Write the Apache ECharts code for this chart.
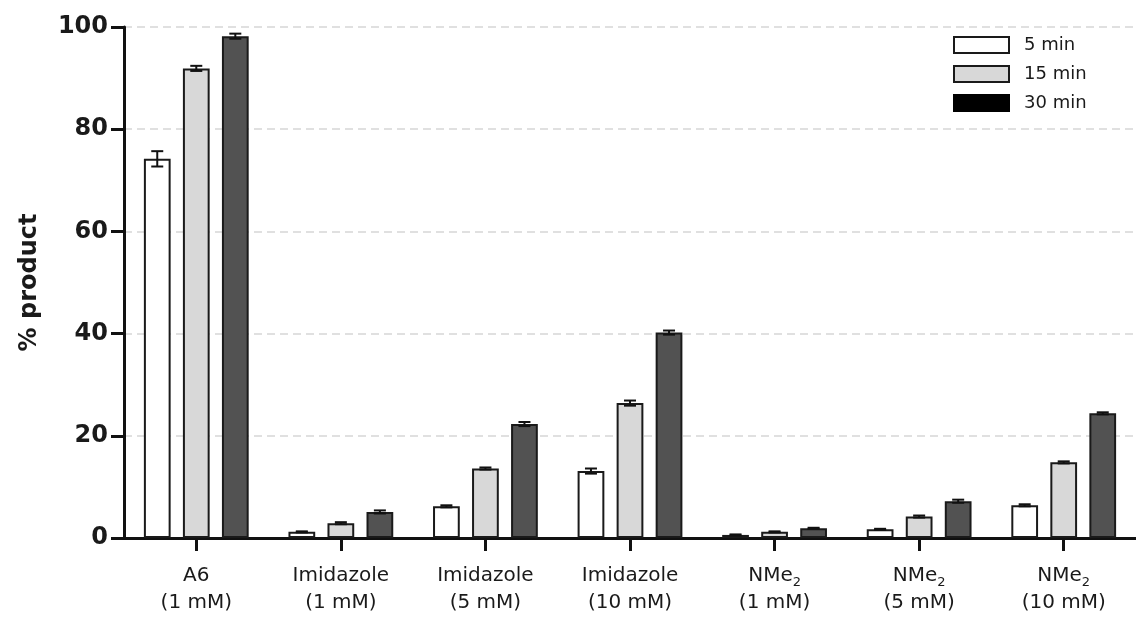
<!DOCTYPE html>
<html>
<head>
<meta charset="utf-8">
<script src="https://cdn.jsdelivr.net/npm/echarts@6/dist/echarts.min.js"></script>
<style>html,body{margin:0;padding:0;background:#fff;}#c{width:1136px;height:631px;}</style>
</head>
<body>
<div id="c"></div>
<script>
const categories = ['A6\n(1 mM)', 'Imidazole\n(1 mM)', 'Imidazole\n(5 mM)', 'Imidazole\n(10 mM)', 'NMe{sub|2}\n(1 mM)', 'NMe{sub|2}\n(5 mM)', 'NMe{sub|2}\n(10 mM)'];
const seriesNames = ['5 min', '15 min', '30 min'];
const min5 = [74.2, 1.2, 6.2, 13.1, 0.6, 1.7, 6.4];
const min15 = [91.9, 2.9, 13.6, 26.4, 1.2, 4.2, 14.8];
const min30 = [98.2, 5.1, 22.3, 40.2, 1.9, 7.2, 24.4];
const err5 = [1.5, 0.1, 0.2, 0.5, 0.1, 0.1, 0.2];
const err15 = [0.5, 0.2, 0.2, 0.5, 0.1, 0.2, 0.2];
const err30 = [0.5, 0.3, 0.4, 0.4, 0.1, 0.3, 0.2];
const yTicks = [0, 20, 40, 60, 80, 100];

const values = [min5, min15, min30];
const errs = [err5, err15, err30];
const fills = ['#ffffff', '#d8d8d8', '#525252'];
const BAR_FRAC = 0.185;
const GAP_FRAC = 0.085;

const chart = echarts.init(document.getElementById('c'), null, {renderer: 'canvas'});

const barSeries = values.map((v, i) => ({
  name: seriesNames[i],
  type: 'bar',
  data: v,
  barWidth: (BAR_FRAC * 100) + '%',
  barGap: (GAP_FRAC / BAR_FRAC * 100).toFixed(1) + '%',
  itemStyle: {color: fills[i], borderColor: '#1a1a1a', borderWidth: 2},
  emphasis: {disabled: true},
  z: 2
}));

const errSeries = values.map((v, i) => ({
  type: 'custom',
  name: 'err' + i,
  data: v.map((val, k) => [k, val, errs[i][k]]),
  z: 5,
  silent: true,
  renderItem: function (params, api) {
    const cat = api.value(0), val = api.value(1), e = api.value(2);
    const band = api.size([1, 0])[0];
    const off = (i - 1) * band * (BAR_FRAC + GAP_FRAC);
    const cx = api.coord([cat, val])[0] + off;
    const yt = api.coord([cat, val + e])[1];
    const yb = api.coord([cat, val - e])[1];
    const hw = 6;
    const st = {stroke: '#111', lineWidth: 2, fill: null};
    return {
      type: 'group',
      children: [
        {type: 'line', shape: {x1: cx, y1: yt, x2: cx, y2: yb}, style: st},
        {type: 'line', shape: {x1: cx - hw, y1: yt, x2: cx + hw, y2: yt}, style: st},
        {type: 'line', shape: {x1: cx - hw, y1: yb, x2: cx + hw, y2: yb}, style: st}
      ]
    };
  }
}));

const option = {
  animation: false,
  backgroundColor: '#ffffff',
  grid: {left: 124, right: -2, top: 27, bottom: 93, containLabel: false},
  legend: {
    orient: 'vertical',
    left: 953,
    top: 36,
    padding: 0,
    itemWidth: 55,
    itemHeight: 16,
    itemGap: 11,
    icon: 'rect',
    selectedMode: false,
    data: [
      {name: '5 min'},
      {name: '15 min'},
      {name: '30 min', itemStyle: {color: '#000000', borderColor: '#000000'}}
    ],
    formatter: function (n) { return '{t|' + n + '}'; },
    textStyle: {
      fontFamily: 'DejaVu Sans', fontSize: 18, color: '#1a1a1a',
      rich: {t: {fontFamily: 'DejaVu Sans', fontSize: 18, lineHeight: 20, color: '#1a1a1a', padding: [0, 0, 0, 10]}}
    }
  },
  xAxis: {
    type: 'category',
    data: categories,
    axisLine: {lineStyle: {color: '#111', width: 3}},
    axisTick: {show: true, alignWithLabel: true, length: 13, lineStyle: {color: '#111', width: 3}},
    axisLabel: {
      interval: 0,
      margin: 24,
      fontFamily: 'DejaVu Sans',
      fontSize: 20,
      lineHeight: 27,
      color: '#1a1a1a',
      rich: {
        sub: {fontFamily: 'DejaVu Sans', fontSize: 13, color: '#1a1a1a', lineHeight: 27, padding: [14, 0, 0, 0]}
      }
    }
  },
  yAxis: {
    type: 'value',
    min: 0,
    max: 100,
    interval: 20,
    name: '% product',
    nameLocation: 'middle',
    nameGap: 82,
    nameTextStyle: {fontFamily: 'DejaVu Sans', fontWeight: 'bold', fontSize: 24, color: '#1a1a1a'},
    axisLine: {show: true, lineStyle: {color: '#111', width: 3}},
    axisTick: {show: true, length: 13, lineStyle: {color: '#111', width: 3}},
    axisLabel: {
      margin: 16,
      fontFamily: 'DejaVu Sans',
      fontWeight: 'bold',
      fontSize: 24,
      color: '#1a1a1a',
      formatter: function (v) { return yTicks.indexOf(v) >= 0 ? String(v) : ''; }
    },
    splitLine: {show: true, lineStyle: {color: '#d6d6d6', width: 1.5, type: [8, 5]}}
  },
  series: barSeries.concat(errSeries)
};

chart.setOption(option);
</script>
</body>
</html>
